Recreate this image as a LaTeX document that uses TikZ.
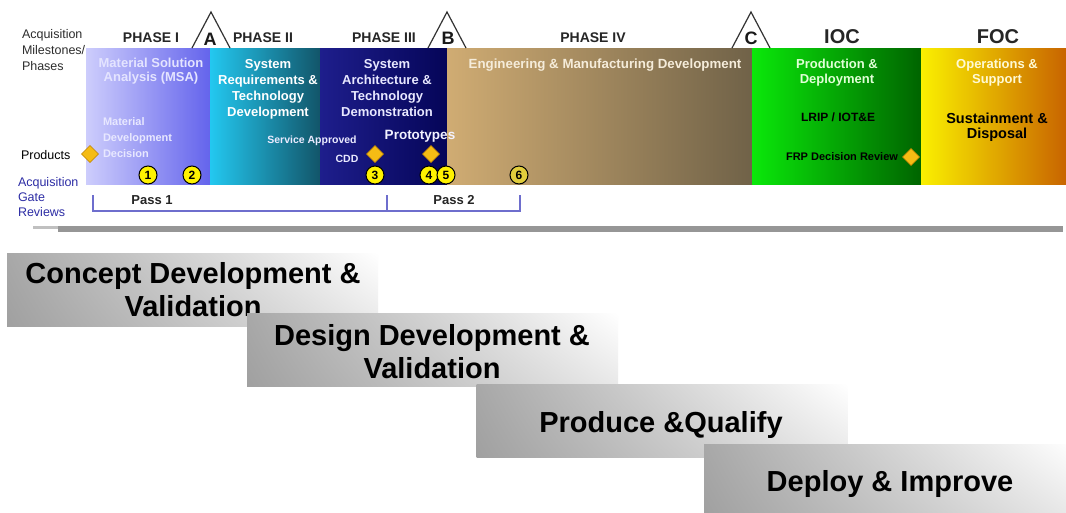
\documentclass[tikz,border=0pt]{standalone}
\usepackage{fontspec}
\setmainfont{Liberation Sans}
\usetikzlibrary{shapes.geometric,shadings}
\definecolor{msaL}{RGB}{205,205,252}
\definecolor{msaR}{RGB}{100,100,236}
\definecolor{srL}{RGB}{35,200,240}
\definecolor{srR}{RGB}{18,85,105}
\definecolor{saL}{RGB}{30,30,140}
\definecolor{saR}{RGB}{5,5,88}
\definecolor{emdL}{RGB}{208,172,115}
\definecolor{emdR}{RGB}{112,98,72}
\definecolor{iocL}{RGB}{10,232,10}
\definecolor{iocR}{RGB}{0,100,0}
\definecolor{focL}{RGB}{250,240,0}
\definecolor{focR}{RGB}{200,100,0}
\definecolor{dia}{RGB}{245,188,20}
\definecolor{diaD}{RGB}{190,130,0}
\definecolor{gateblue}{RGB}{45,45,165}
\definecolor{brk}{RGB}{110,110,205}
\definecolor{lbl}{RGB}{45,45,45}
\definecolor{gline}{RGB}{150,150,150}
\definecolor{barA}{RGB}{168,168,168}
\definecolor{barB}{RGB}{160,160,160}
\definecolor{barC}{RGB}{232,232,232}
\begin{document}
\begin{tikzpicture}[x=1pt,y=-1pt,
  every node/.style={inner sep=0pt, outer sep=0pt},
  phasebox/.style={rectangle, minimum height=136pt, draw=none},
  boxtxt/.style={anchor=base, align=center, font=\bfseries\fontsize{13}{16}\selectfont},
  smalltxt/.style={anchor=base west, align=left, font=\bfseries\fontsize{11}{16}\selectfont},
  phaselbl/.style={anchor=base, font=\bfseries\fontsize{14}{16}\selectfont, text=black!85},
  biglbl/.style={anchor=base, font=\bfseries\fontsize{20}{22}\selectfont, text=black!85},
  msletter/.style={anchor=base, font=\bfseries\fontsize{18}{20}\selectfont, text=black!90},
  tri/.style={draw=black!80, line width=1.2pt, line join=miter},
  sidelbl/.style={anchor=base west, font=\fontsize{12.5}{15}\selectfont, text=lbl},
  gatelbl/.style={anchor=base west, align=left, font=\fontsize{12.5}{15}\selectfont, text=gateblue},
  gate/.style={circle, draw=black, line width=1pt, fill=yellow, minimum size=18pt, font=\bfseries\fontsize{12}{12}\selectfont},
  prod/.style={diamond, fill=dia, draw=diaD, line width=0.6pt, minimum width=17pt, minimum height=17pt},
  bracket/.style={draw=brk, line width=1.5pt},
  passlbl/.style={anchor=base, font=\bfseries\fontsize{13}{15}\selectfont, text=black!85},
  bar/.style={rectangle, minimum width=371pt, minimum height=73pt, upper left=barA, lower left=barB, upper right=white, lower right=barC},
  bartxt/.style={anchor=base, align=center, font=\bfseries\fontsize{29}{33}\selectfont, text=black}
]
\clip (0,0) rectangle (1066,512);
\fill[white] (0,0) rectangle (1066,512);

% phase boxes
\node[phasebox, minimum width=124pt, left color=msaL, right color=msaR] (msa) at (148,116) {};
\node[phasebox, minimum width=110pt, left color=srL, right color=srR] (sr) at (265,116) {};
\node[phasebox, minimum width=127pt, left color=saL, right color=saR] (sa) at (383.5,116) {};
\node[phasebox, minimum width=305pt, left color=emdL, right color=emdR] (emd) at (599.5,116) {};
\node[phasebox, minimum width=169pt, left color=iocL, right color=iocR] (ioc) at (836.5,116) {};
\node[phasebox, minimum width=145pt, left color=focL, right color=focR] (foc) at (993.5,116) {};

% left labels
\node[sidelbl] (acq) at (22,38) {Acquisition};
\node[sidelbl] (mil) at (22,54) {Milestones/};
\node[sidelbl] (pha) at (22,70) {Phases};
\node[sidelbl, text=black] (prd) at (21,159) {Products};
\node[gatelbl] (agr1) at (18,186) {Acquisition};
\node[gatelbl] (agr2) at (18,201) {Gate};
\node[gatelbl] (agr3) at (18,216) {Reviews};

% phase labels
\node[phaselbl] (p1) at (151,42) {PHASE I};
\node[phaselbl] (p2) at (263,42) {PHASE II};
\node[phaselbl] (p3) at (384,42) {PHASE III};
\node[phaselbl] (p4) at (593,42) {PHASE IV};
\node[biglbl] (iocl) at (842,43) {IOC};
\node[biglbl] (focl) at (998,43) {FOC};

% milestone triangles
\coordinate (tAl) at (192,48); \coordinate (tAt) at (211,12); \coordinate (tAr) at (230,48);
\coordinate (tBl) at (428,48); \coordinate (tBt) at (447,12); \coordinate (tBr) at (466,48);
\coordinate (tCl) at (732,48); \coordinate (tCt) at (751,12); \coordinate (tCr) at (770,48);
\draw[tri] (tAl) -- (tAt) -- (tAr);
\draw[tri] (tBl) -- (tBt) -- (tBr);
\draw[tri] (tCl) -- (tCt) -- (tCr);
\node[msletter] (mA) at (210,45) {A};
\node[msletter] (mB) at (448,44) {B};
\node[msletter] (mC) at (751,44) {C};

% box texts (anchor = baseline of last line)
\node[boxtxt, font=\bfseries\fontsize{13}{13.5}\selectfont, text={rgb,255:red,228;green,228;blue,255}] (msat) at (151,81) {Material Solution\\Analysis (MSA)};
\node[smalltxt, text={rgb,255:red,232;green,232;blue,255}] (mdd) at (103,157) {Material\\Development\\Decision};
\node[boxtxt, text=white] (srt) at (268,116) {System\\Requirements \&\\Technology\\Development};
\node[anchor=base, font=\bfseries\fontsize{10.5}{12}\selectfont, text=white!92!blue] (sap) at (312,143) {Service Approved};
\node[anchor=base, font=\bfseries\fontsize{10.5}{12}\selectfont, text=white!92!blue] (cdd) at (347,162) {CDD};
\node[boxtxt, text={rgb,255:red,232;green,232;blue,255}] (sat) at (387,116) {System\\Architecture \&\\Technology\\Demonstration};
\node[anchor=base, font=\bfseries\fontsize{13.5}{15}\selectfont, text=white!95!blue] (proto) at (420,139) {Prototypes};
\node[boxtxt, font=\bfseries\fontsize{13.3}{16}\selectfont, text={rgb,255:red,245;green,236;blue,218}] (emdt) at (605,68) {Engineering \& Manufacturing Development};
\node[boxtxt, font=\bfseries\fontsize{13}{15}\selectfont, text={rgb,255:red,225;green,255;blue,215}] (ioct) at (837,83) {Production \&\\Deployment};
\node[anchor=base, font=\bfseries\fontsize{12}{14}\selectfont, text=black] (lrip) at (838,121) {LRIP / IOT\&E};
\node[anchor=base, font=\bfseries\fontsize{11}{13}\selectfont, text=black] (frp) at (842,160) {FRP Decision Review};
\node[boxtxt, font=\bfseries\fontsize{13}{15}\selectfont, text={rgb,255:red,255;green,250;blue,212}] (foct) at (997,83) {Operations \&\\Support};
\node[boxtxt, font=\bfseries\fontsize{14.5}{15}\selectfont, text=black] (sust) at (997,138) {Sustainment \&\\Disposal};

% product diamonds
\node[prod] (d0) at (90,154) {};
\node[prod] (d1) at (375,154) {};
\node[prod] (d2) at (431,154) {};
\node[prod] (d3) at (911,157) {};

% gate reviews
\node[gate] (g1) at (148,175) {1};
\node[gate] (g2) at (192,175) {2};
\node[gate] (g3) at (375,175) {3};
\node[gate] (g4) at (429,175) {4};
\node[gate] (g5) at (446,175) {5};
\node[gate, fill={rgb,255:red,225;green,205;blue,60}] (g6) at (519,175) {6};

% pass bracket
\coordinate (b0) at (93,195); \coordinate (b0b) at (93,211);
\coordinate (bm) at (387,195); \coordinate (bmb) at (387,211);
\coordinate (b1) at (520,195); \coordinate (b1b) at (520,211);
\draw[bracket] (b0) -- (b0b) -- (b1b) -- (b1);
\draw[bracket] (bm) -- (bmb);
\node[passlbl] (pass1) at (152,204) {Pass 1};
\node[passlbl] (pass2) at (454,204) {Pass 2};

% divider
\fill[gline!60] (33,226) rectangle (58,229);
\fill[gline] (58,226) rectangle (1063,232);

% lower stair bars
\node[bar] (bar1) at (192.5,289.5) {};
\node[bartxt] (t1) at (193,316) {Concept Development \&\\Validation};
\node[bar] (bar2) at (432.5,350) {};
\node[bartxt] (t2) at (432,378) {Design Development \&\\Validation};
\node[bar] (bar3) at (662,420.5) {};
\node[bartxt] (t3) at (661,432) {Produce \&Qualify};
\node[bar] (bar4) at (889.5,480.5) {};
\node[bartxt] (t4) at (890,491) {Deploy \& Improve};
\end{tikzpicture}
\end{document}
